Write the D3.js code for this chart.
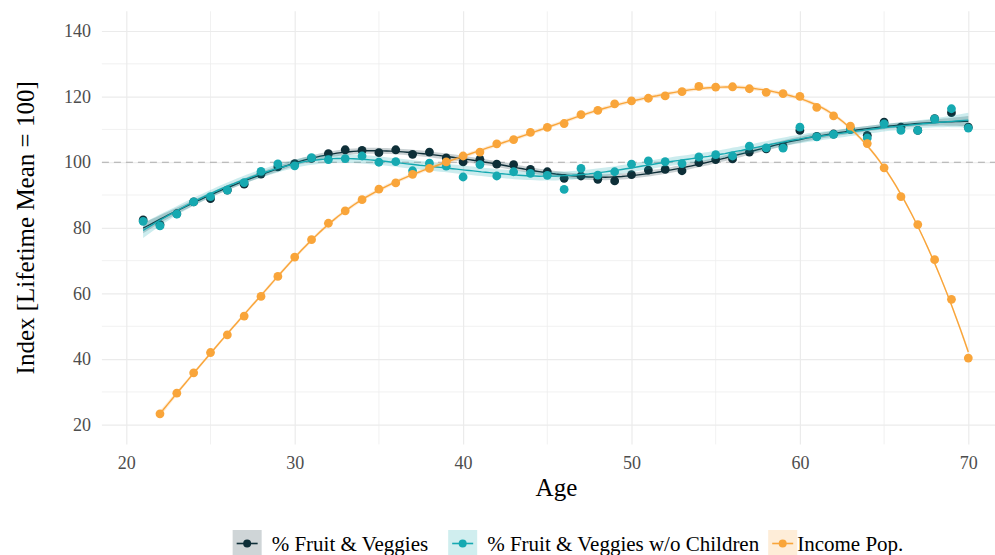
<!DOCTYPE html>
<html>
<head>
<meta charset="utf-8">
<script src="https://cdn.jsdelivr.net/npm/d3@7"></script>
<style>
  body { margin: 0; background: #fff; }
  svg { font-family: "Liberation Serif", "DejaVu Serif", serif; display: block; }
</style>
</head>
<body>
<div id="chart-container"></div>
<script>
const W = 995;
const H = 555;

// data
const agesFruit = [21, 22, 23, 24, 25, 26, 27, 28, 29, 30, 31, 32, 33, 34, 35, 36, 37, 38, 39, 40,
  41, 42, 43, 44, 45, 46, 47, 48, 49, 50, 51, 52, 53, 54, 55, 56, 57, 58, 59, 60,
  61, 62, 63, 64, 65, 66, 67, 68, 69, 70];
const fruitVeg = [82.4, 81.0, 84.3, 87.9, 88.9, 91.5, 93.3, 96.4, 98.6, 99.6,
  101.2, 102.6, 103.8, 103.6, 102.9, 103.8, 102.4, 103.1, 101.3, 100.1,
  100.9, 99.4, 99.3, 97.8, 97.1, 95.1, 95.8, 94.8, 94.3, 96.2,
  97.6, 97.8, 97.4, 99.9, 100.8, 101.0, 103.1, 104.1, 104.8, 109.7,
  107.9, 108.6, 110.0, 108.2, 112.2, 110.7, 109.7, 113.3, 115.1, 110.7];
const fruitVegNoKids = [82.0, 80.6, 84.2, 87.9, 89.5, 91.5, 93.8, 97.2, 99.5, 98.9,
  101.4, 100.8, 101.1, 101.9, 100.0, 100.2, 97.4, 99.7, 98.8, 95.5,
  99.3, 95.8, 97.1, 96.6, 96.0, 91.7, 98.1, 96.1, 97.1, 99.4,
  100.4, 100.2, 99.6, 101.6, 102.3, 101.9, 104.9, 104.4, 104.3, 110.7,
  107.7, 108.5, 110.0, 107.4, 111.7, 109.7, 109.7, 113.2, 116.3, 110.4];
const agesIncome = [22, 23, 24, 25, 26, 27, 28, 29, 30, 31, 32, 33, 34, 35, 36, 37, 38, 39, 40,
  41, 42, 43, 44, 45, 46, 47, 48, 49, 50, 51, 52, 53, 54, 55, 56, 57, 58, 59, 60,
  61, 62, 63, 64, 65, 66, 67, 68, 69, 70];
const incomePop = [23.3, 29.6, 35.8, 42.0, 47.4, 53.1, 59.1, 65.2, 71.1,
  76.4, 81.4, 85.2, 88.6, 91.8, 93.7, 96.3, 98.1, 100.1, 101.9,
  103.1, 105.6, 106.9, 109.1, 110.6, 111.8, 114.5, 115.8, 117.8, 118.7,
  119.5, 120.2, 121.5, 123.1, 122.9, 123.0, 122.4, 121.3, 120.9, 120.1,
  116.7, 114.1, 111.0, 105.7, 98.3, 89.5, 81.0, 70.3, 58.2, 40.3];

const seriesNames = ["% Fruit & Veggies", "% Fruit & Veggies w/o Children", "Income Pop."];
const seriesColors = ["#0e2f38", "#16a9b1", "#f9a53a"];
const xTicks = [20, 30, 40, 50, 60, 70];
const yTicks = [20, 40, 60, 80, 100, 120, 140];

const series = [
  { name: seriesNames[0], color: seriesColors[0], x: agesFruit, y: fruitVeg, span: 0.4 },
  { name: seriesNames[1], color: seriesColors[1], x: agesFruit, y: fruitVegNoKids, span: 0.4 },
  { name: seriesNames[2], color: seriesColors[2], x: agesIncome, y: incomePop, span: 0.3 },
];

// local quadratic loess weights for one point
function loessRow(xs, x0, span) {
  const n = xs.length;
  const q = Math.max(3, Math.floor(n * span));
  const d = xs.map((x) => Math.abs(x - x0));
  const h = d.slice().sort((a, b) => a - b)[q - 1] * 1.0001;
  const w = d.map((di) => (di < h ? Math.pow(1 - Math.pow(di / h, 3), 3) : 0));
  let s = [0, 0, 0, 0, 0];
  xs.forEach((x, i) => {
    const dx = x - x0;
    let p = w[i];
    for (let k = 0; k < 5; k++) {
      s[k] += p;
      p *= dx;
    }
  });
  const A = [
    [s[0], s[1], s[2]],
    [s[1], s[2], s[3]],
    [s[2], s[3], s[4]],
  ];
  // first row of inverse (symmetric)
  const det =
    A[0][0] * (A[1][1] * A[2][2] - A[1][2] * A[2][1]) -
    A[0][1] * (A[1][0] * A[2][2] - A[1][2] * A[2][0]) +
    A[0][2] * (A[1][0] * A[2][1] - A[1][1] * A[2][0]);
  const r0 = (A[1][1] * A[2][2] - A[1][2] * A[2][1]) / det;
  const r1 = -(A[1][0] * A[2][2] - A[1][2] * A[2][0]) / det;
  const r2 = (A[1][0] * A[2][1] - A[1][1] * A[2][0]) / det;
  return xs.map((x, i) => {
    const dx = x - x0;
    return w[i] * (r0 + r1 * dx + r2 * dx * dx);
  });
}

function smooth(xs, ys, span, steps) {
  const n = xs.length;
  const L = xs.map((x0) => loessRow(xs, x0, span));
  let rss = 0;
  let delta1 = 0;
  for (let i = 0; i < n; i++) {
    const fit = d3.sum(L[i], (l, j) => l * ys[j]);
    rss += (ys[i] - fit) * (ys[i] - fit);
  }
  for (let i = 0; i < n; i++) {
    for (let j = 0; j < n; j++) {
      const m = (i === j ? 1 : 0) - L[i][j];
      delta1 += m * m;
    }
  }
  const sigma = Math.sqrt(rss / delta1);
  const t = 2.01;
  const x0 = d3.min(xs);
  const x1 = d3.max(xs);
  const out = [];
  for (let k = 0; k <= steps; k++) {
    const xv = x0 + ((x1 - x0) * k) / steps;
    const l = loessRow(xs, xv, span);
    const fit = d3.sum(l, (li, j) => li * ys[j]);
    const se = sigma * Math.sqrt(d3.sum(l, (li) => li * li));
    out.push({ x: xv, y: fit, lo: fit - t * se, hi: fit + t * se });
  }
  return out;
}

const svg = d3
  .select("#chart-container")
  .append("svg")
  .attr("width", W)
  .attr("height", H);

const xScale = d3.scaleLinear().domain([20, 70]).range([126.3, 968.3]);
const yScale = d3.scaleLinear().domain([20, 140]).range([424.7, 31]);
const plot = { left: xScale(18.55), right: W, top: yScale(146), bottom: yScale(14) };

svg
  .append("clipPath")
  .attr("id", "clip")
  .append("rect")
  .attr("x", plot.left)
  .attr("y", plot.top)
  .attr("width", plot.right - plot.left)
  .attr("height", plot.bottom - plot.top);

// grid
const grid = svg.append("g");
const minorX = [25, 35, 45, 55, 65];
const minorY = [30, 50, 70, 90, 110, 130];
grid
  .selectAll(".minor-x")
  .data(minorX)
  .enter()
  .append("line")
  .attr("x1", (d) => xScale(d))
  .attr("x2", (d) => xScale(d))
  .attr("y1", plot.top)
  .attr("y2", plot.bottom)
  .attr("stroke", "#eeeeee")
  .attr("stroke-width", 0.8);
grid
  .selectAll(".minor-y")
  .data(minorY)
  .enter()
  .append("line")
  .attr("x1", plot.left)
  .attr("x2", plot.right)
  .attr("y1", (d) => yScale(d))
  .attr("y2", (d) => yScale(d))
  .attr("stroke", "#eeeeee")
  .attr("stroke-width", 0.8);

svg
  .append("g")
  .attr("transform", "translate(0," + plot.bottom + ")")
  .call(d3.axisBottom(xScale).tickValues(xTicks).tickSize(-(plot.bottom - plot.top)).tickPadding(12))
  .call((g) => g.select(".domain").remove())
  .call((g) => g.selectAll(".tick line").attr("stroke", "#ebebeb").attr("stroke-width", 1.2))
  .call((g) =>
    g.selectAll(".tick text").attr("fill", "#4d4d4d").style("font-size", "18px").style("font-family", "Liberation Serif")
  );

svg
  .append("g")
  .attr("transform", "translate(" + plot.left + ",0)")
  .call(d3.axisLeft(yScale).tickValues(yTicks).tickSize(-(plot.right - plot.left)).tickPadding(11))
  .call((g) => g.select(".domain").remove())
  .call((g) => g.selectAll(".tick line").attr("stroke", "#ebebeb").attr("stroke-width", 1.2))
  .call((g) =>
    g.selectAll(".tick text").attr("fill", "#4d4d4d").style("font-size", "18px").style("font-family", "Liberation Serif")
  );

// reference line at 100
svg
  .append("line")
  .attr("x1", plot.left)
  .attr("x2", plot.right)
  .attr("y1", yScale(100))
  .attr("y2", yScale(100))
  .attr("stroke", "#aaaaaa")
  .attr("stroke-width", 1.2)
  .attr("stroke-dasharray", "7,5");

const body = svg.append("g").attr("clip-path", "url(#clip)");

series.forEach((s) => {
  const sm = smooth(s.x, s.y, s.span, 200);
  const g = body.append("g");
  g.append("path")
    .datum(sm)
    .attr("fill", s.color)
    .attr("fill-opacity", 0.22)
    .attr(
      "d",
      d3
        .area()
        .x((d) => xScale(d.x))
        .y0((d) => yScale(d.lo))
        .y1((d) => yScale(d.hi))
    );
  g.append("path")
    .datum(sm)
    .attr("fill", "none")
    .attr("stroke", s.color)
    .attr("stroke-width", 1.4)
    .attr(
      "d",
      d3
        .line()
        .x((d) => xScale(d.x))
        .y((d) => yScale(d.y))
    );
  g.selectAll("circle")
    .data(s.x.map((x, i) => ({ x: x, y: s.y[i] })))
    .enter()
    .append("circle")
    .attr("cx", (d) => xScale(d.x))
    .attr("cy", (d) => yScale(d.y))
    .attr("r", 4.4)
    .attr("fill", s.color);
});

// axis titles
svg
  .append("text")
  .attr("x", (plot.left + plot.right) / 2 + 8)
  .attr("y", 487)
  .attr("text-anchor", "middle")
  .attr("dominant-baseline", "central")
  .style("font-size", "25px")
  .attr("fill", "#000")
  .text("Age");

svg
  .append("text")
  .attr("transform", "translate(25," + (plot.top + plot.bottom) / 2 + ") rotate(-90)")
  .attr("text-anchor", "middle")
  .attr("dominant-baseline", "central")
  .style("font-size", "25px")
  .attr("fill", "#000")
  .text("Index [Lifetime Mean = 100]");

// legend
const legend = svg.append("g");
const keyW = 29;
const keyH = 27;
const textGaps = [10, 10, 0];
const itemGaps = [20, 9, 0];
let cursor = 0;
series.forEach((s, i) => {
  const item = legend.append("g");
  item
    .append("rect")
    .attr("width", keyW)
    .attr("height", keyH)
    .attr("fill", s.color)
    .attr("fill-opacity", 0.2);
  item
    .append("line")
    .attr("x1", 4)
    .attr("x2", keyW - 4)
    .attr("y1", keyH / 2)
    .attr("y2", keyH / 2)
    .attr("stroke", s.color)
    .attr("stroke-width", 1.6);
  item
    .append("circle")
    .attr("cx", keyW / 2)
    .attr("cy", keyH / 2)
    .attr("r", 4)
    .attr("fill", s.color);
  const label = item
    .append("text")
    .attr("x", keyW + textGaps[i])
    .attr("y", keyH / 2)
    .attr("dominant-baseline", "central")
    .style("font-size", "21px")
    .attr("fill", "#000")
    .text(s.name);
  const w = keyW + textGaps[i] + label.node().getComputedTextLength();
  item.attr("transform", "translate(" + cursor + ",0)");
  cursor += w + itemGaps[i];
});
legend.attr("transform", "translate(" + (568 - cursor / 2) + ",530)");
</script>
</body>
</html>
